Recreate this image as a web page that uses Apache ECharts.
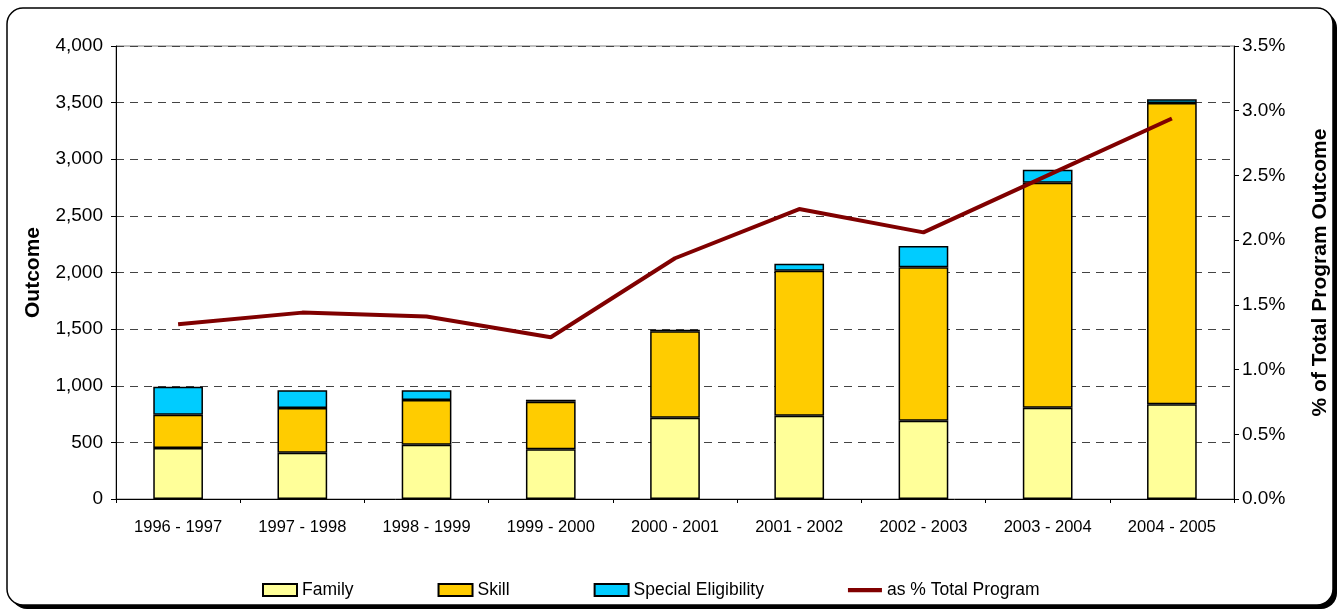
<!DOCTYPE html>
<html>
<head>
<meta charset="utf-8">
<script src="https://cdn.jsdelivr.net/npm/echarts@6/dist/echarts.min.js"></script>
<style>
  html, body { margin: 0; padding: 0; background: #fff; }
  #chart { width: 1343px; height: 613px; }
</style>
</head>
<body>
<div id="chart"></div>
<script>
const years = ["1996 - 1997", "1997 - 1998", "1998 - 1999", "1999 - 2000", "2000 - 2001",
  "2001 - 2002", "2002 - 2003", "2003 - 2004", "2004 - 2005"];
const family = [450, 409, 480, 439, 718, 736, 692, 806, 836];
const skill = [293, 395, 394, 420, 763, 1280, 1354, 1987, 2661];
const special = [249, 156, 86, 18, 14, 62, 188, 115, 33];
const pctTotal = [1.35, 1.44, 1.41, 1.25, 1.86, 2.24, 2.06, 2.50, 2.94];

const FONT = "Liberation Sans, Arial, sans-serif";
const chart = echarts.init(document.getElementById("chart"));

function barSeries(name, data, color) {
  return {
    name: name,
    type: "bar",
    stack: "total",
    barCategoryGap: "60%",
    data: data,
    itemStyle: { color: color, borderColor: "#000", borderWidth: 1.5 }
  };
}

chart.setOption({
  animation: false,
  graphic: [
    { type: "rect", z: -10, shape: { x: 11, y: 12, width: 1326, height: 597, r: 16 }, style: { fill: "#000" } },
    { type: "rect", z: -9, shape: { x: 7, y: 8, width: 1326, height: 597, r: 16 },
      style: { fill: "#fff", stroke: "#000", lineWidth: 1.5 } }
  ],
  grid: { left: 116, right: 109, top: 46, bottom: 114, show: true, borderColor: "#808080", borderWidth: 1 },
  legend: {
    left: 257,
    top: 576,
    itemGap: 84,
    itemWidth: 34,
    itemHeight: 12,
    textStyle: { fontFamily: FONT, fontSize: 17.5, color: "#000" },
    data: [
      { name: "Family", icon: "rect" },
      { name: "Skill", icon: "rect" },
      { name: "Special Eligibility", icon: "rect" },
      { name: "as % Total Program", icon: "path://M0,0H40V5H0Z", itemStyle: { color: "#800000", borderWidth: 0 } }
    ]
  },
  xAxis: {
    type: "category",
    data: years,
    axisLine: { lineStyle: { color: "#000", width: 1 } },
    axisTick: { show: true, length: 4, lineStyle: { color: "#000" } },
    axisLabel: { fontFamily: FONT, fontSize: 16.5, color: "#000", margin: 20, interval: 0 }
  },
  yAxis: [
    {
      type: "value",
      min: 0,
      max: 4000,
      interval: 500,
      name: "Outcome",
      nameLocation: "middle",
      nameGap: 72,
      nameTextStyle: { fontFamily: FONT, fontSize: 21, fontWeight: "bold", color: "#000" },
      axisLine: { show: true, lineStyle: { color: "#000" } },
      axisTick: { show: true, length: 5, lineStyle: { color: "#000" } },
      axisLabel: {
        fontFamily: FONT, fontSize: 19, color: "#000", margin: 13,
        formatter: (v) => v.toLocaleString("en-US")
      },
      splitLine: { show: true, lineStyle: { color: "#444", type: [8, 6], width: 1 } }
    },
    {
      type: "value",
      min: 0,
      max: 3.5,
      interval: 0.5,
      name: "% of Total Program Outcome",
      nameLocation: "middle",
      nameGap: 76,
      nameRotate: 90,
      nameTextStyle: { fontFamily: FONT, fontSize: 21, fontWeight: "bold", color: "#000" },
      axisLine: { show: true, lineStyle: { color: "#000" } },
      axisTick: { show: true, length: 5, lineStyle: { color: "#000" } },
      axisLabel: {
        fontFamily: FONT, fontSize: 19, color: "#000", margin: 8,
        formatter: (v) => v.toFixed(1) + "%"
      },
      splitLine: { show: false }
    }
  ],
  series: [
    barSeries("Family", family, "#FFFF99"),
    barSeries("Skill", skill, "#FFCC00"),
    barSeries("Special Eligibility", special, "#00CCFF"),
    {
      name: "as % Total Program",
      type: "line",
      yAxisIndex: 1,
      data: pctTotal,
      showSymbol: false,
      symbol: "none",
      lineStyle: { color: "#800000", width: 4 },
      itemStyle: { color: "#800000" }
    }
  ]
});
</script>
</body>
</html>
